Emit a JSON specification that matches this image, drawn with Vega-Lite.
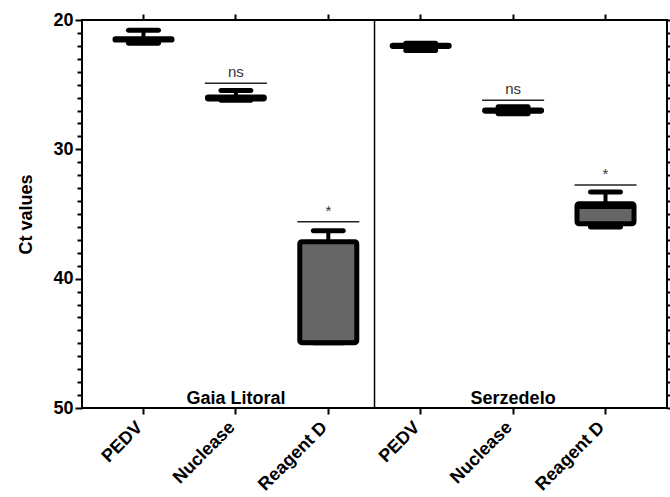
{
 "$schema": "https://vega.github.io/schema/vega-lite/v6.json",
 "width": 585,
 "height": 388,
 "autosize": {"type": "none"},
 "padding": {"left": 82, "top": 20, "right": 3, "bottom": 89},
 "background": "white",
 "config": {
  "view": {"stroke": "black", "strokeWidth": 2},
  "font": "Liberation Sans",
  "axis": {"domain": false, "grid": false, "tickColor": "black", "labelColor": "black", "titleColor": "black", "zindex": 1}
 },
 "datasets": {
  "boxes": [
   {"cat": "G-PEDV", "min": 20.8, "q1": 21.45, "med": 21.5, "q3": 21.55, "max": 21.8, "sig": null, "sigY": null},
   {"cat": "G-Nuclease", "min": 25.45, "q1": 25.95, "med": 26.0, "q3": 26.1, "max": 26.2, "sig": "ns", "sigY": 24.9},
   {"cat": "G-Reagent D", "min": 36.3, "q1": 37.15, "med": 44.95, "q3": 44.95, "max": 44.95, "sig": "*", "sigY": 35.6},
   {"cat": "S-PEDV", "min": 21.8, "q1": 21.95, "med": 22.0, "q3": 22.05, "max": 22.35, "sig": null, "sigY": null},
   {"cat": "S-Nuclease", "min": 26.7, "q1": 26.95, "med": 27.0, "q3": 27.05, "max": 27.25, "sig": "ns", "sigY": 26.2},
   {"cat": "S-Reagent D", "min": 33.3, "q1": 34.2, "med": 34.45, "q3": 35.75, "max": 36.0, "sig": "*", "sigY": 32.75}
  ],
  "panels": [
   {"cat": "G-Nuclease", "y": 49.3, "label": "Gaia Litoral"},
   {"cat": "S-Nuclease", "y": 49.3, "label": "Serzedelo"}
  ],
  "divider": [{"cat": "S-PEDV"}]
 },
 "resolve": {"axis": {"x": "independent", "y": "independent"}},
 "layer": [
  {
   "data": {"name": "boxes"},
   "mark": {"type": "rule", "strokeWidth": 4, "color": "black"},
   "encoding": {
    "x": {
     "field": "cat", "type": "nominal",
     "scale": {"type": "band", "paddingInner": 0.383, "paddingOuter": 0.357, "domain": ["G-PEDV", "G-Nuclease", "G-Reagent D", "S-PEDV", "S-Nuclease", "S-Reagent D"]},
     "axis": {"orient": "bottom", "title": null, "labelAngle": -45, "labelAlign": "right", "labelBaseline": "alphabetic", "labelExpr": "slice(datum.label, 2)", "labelFontSize": 18, "labelFontWeight": "bold", "tickSize": 6, "tickWidth": 2, "labelPadding": 14}
    },
    "y": {
     "field": "min", "type": "quantitative",
     "scale": {"domain": [20, 50], "reverse": true, "nice": false, "zero": false},
     "axis": {"orient": "left", "values": [20,21,22,23,24,25,26,27,28,29,30,31,32,33,34,35,36,37,38,39,40,41,42,43,44,45,46,47,48,49,50], "labelExpr": "datum.value % 10 === 0 ? datum.label : ''", "tickSize": {"condition": {"test": "datum.value % 10 === 0", "value": 7}, "value": 5}, "tickWidth": 2, "tickColor": "black", "labelFontSize": 18, "labelFontWeight": "bold", "labelPadding": 2, "title": "Ct values", "titleFontSize": 18, "titleFontWeight": "bold", "titlePadding": 17}
    },
    "y2": {"field": "max"}
   }
  },
  {
   "data": {"name": "boxes"},
   "mark": {"type": "tick", "size": 35, "thickness": 5, "color": "black", "opacity": 1, "cornerRadius": 2.5},
   "encoding": {
    "x": {"field": "cat", "type": "nominal", "axis": {"orient": "top", "labels": false, "title": null, "ticks": true, "tickSize": 6, "tickWidth": 2, "tickColor": "black"}},
    "y": {"field": "min", "type": "quantitative", "axis": {"orient": "right", "labels": false, "title": null, "ticks": true, "values": [20,21,22,23,24,25,26,27,28,29,30,31,32,33,34,35,36,37,38,39,40,41,42,43,44,45,46,47,48,49,50], "tickSize": 5, "tickWidth": 2, "tickColor": "black"}}
   }
  },
  {
   "data": {"name": "boxes"},
   "mark": {"type": "tick", "size": 35, "thickness": 5, "color": "black", "opacity": 1, "cornerRadius": 2.5},
   "encoding": {
    "x": {"field": "cat", "type": "nominal", "axis": null},
    "y": {"field": "max", "type": "quantitative", "axis": null}
   }
  },
  {
   "data": {"name": "boxes"},
   "mark": {"type": "bar", "fill": "#666666", "stroke": "black", "strokeWidth": 5, "cornerRadius": 2, "opacity": 1},
   "encoding": {
    "x": {"field": "cat", "type": "nominal", "axis": null},
    "y": {"field": "q1", "type": "quantitative", "axis": null},
    "y2": {"field": "q3"}
   }
  },
  {
   "data": {"name": "boxes"},
   "mark": {"type": "tick", "size": 57, "thickness": 4, "color": "black", "opacity": 1},
   "encoding": {
    "x": {"field": "cat", "type": "nominal", "axis": null},
    "y": {"field": "med", "type": "quantitative", "axis": null}
   }
  },
  {
   "data": {"name": "boxes"},
   "transform": [{"filter": "datum.sig != null"}],
   "mark": {"type": "tick", "size": 62, "thickness": 1.5, "color": "#222222", "opacity": 1},
   "encoding": {
    "x": {"field": "cat", "type": "nominal", "axis": null},
    "y": {"field": "sigY", "type": "quantitative", "axis": null}
   }
  },
  {
   "data": {"name": "boxes"},
   "transform": [{"filter": "datum.sig != null"}],
   "mark": {"type": "text", "baseline": "bottom", "dy": -3, "fontSize": 15, "color": "#333333"},
   "encoding": {
    "x": {"field": "cat", "type": "nominal", "axis": null},
    "y": {"field": "sigY", "type": "quantitative", "axis": null},
    "text": {"field": "sig"}
   }
  },
  {
   "data": {"name": "panels"},
   "mark": {"type": "text", "baseline": "middle", "fontSize": 18, "fontWeight": "bold", "color": "black"},
   "encoding": {
    "x": {"field": "cat", "type": "nominal", "axis": null},
    "y": {"field": "y", "type": "quantitative", "axis": null},
    "text": {"field": "label"}
   }
  },
  {
   "data": {"name": "divider"},
   "mark": {"type": "rule", "strokeWidth": 1.5, "color": "black"},
   "encoding": {
    "x": {"field": "cat", "type": "nominal", "bandPosition": -0.31, "axis": null},
    "y": {"datum": 20, "type": "quantitative", "axis": null},
    "y2": {"datum": 50}
   }
  }
 ]
}
